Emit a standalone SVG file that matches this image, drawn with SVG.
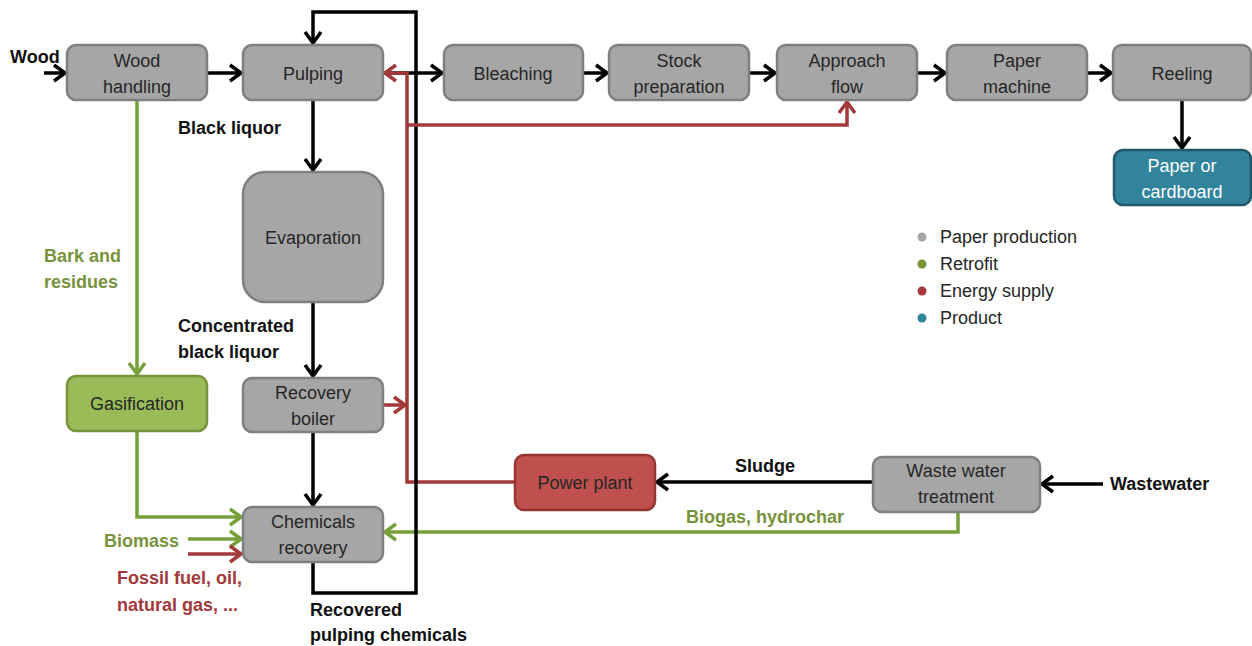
<svg xmlns="http://www.w3.org/2000/svg" width="1252" height="646" viewBox="0 0 1252 646">
<defs>
<style>
.n rect{fill:#a6a6a6;stroke:#7f7f7f;stroke-width:2.5}
.n text,.t{font-family:"Liberation Sans",Arial,sans-serif;font-size:18px;fill:#262626;text-anchor:middle}
.g rect{fill:#9bbb59;stroke:#77933c}
.r rect{fill:#c0504d;stroke:#943634}
.p rect{fill:#31849b;stroke:#215968}
.p text{fill:#ffffff}
.c path{fill:none;stroke-width:3.5;stroke-linejoin:miter}
.k{stroke:#000}
.rd{stroke:#a3393b}
.gr{stroke:#77a03a}
.lb{font-family:"Liberation Sans",Arial,sans-serif;font-size:18px;font-weight:bold;fill:#111}
.lg{fill:#77933c}
.lr{fill:#a3393b}
.leg{font-family:"Liberation Sans",Arial,sans-serif;font-size:18px;fill:#262626}
</style>
<marker id="ak" markerUnits="userSpaceOnUse" viewBox="-14 -10 16 20" refX="0" refY="0" markerWidth="16" markerHeight="20" orient="auto"><path d="M-11,-8 L0,0 L-11,8" fill="none" stroke="#000" stroke-width="3.5"/></marker>
<marker id="ar" markerUnits="userSpaceOnUse" viewBox="-14 -10 16 20" refX="0" refY="0" markerWidth="16" markerHeight="20" orient="auto"><path d="M-11,-8 L0,0 L-11,8" fill="none" stroke="#a3393b" stroke-width="3.5"/></marker>
<marker id="ag" markerUnits="userSpaceOnUse" viewBox="-14 -10 16 20" refX="0" refY="0" markerWidth="16" markerHeight="20" orient="auto"><path d="M-11,-8 L0,0 L-11,8" fill="none" stroke="#77a03a" stroke-width="3.5"/></marker>
</defs>
<rect width="1252" height="646" fill="#fff"/>
<g id="connectors" class="c">
<path class="gr" d="M137,100 V374" marker-end="url(#ag)"/>
<path class="gr" d="M137,431 V517 H241" marker-end="url(#ag)"/>
<path class="gr" d="M188,539 H241" marker-end="url(#ag)"/>
<path class="rd" d="M188,554 H241" marker-end="url(#ar)"/>
<path class="gr" d="M958,512 V532 H385" marker-end="url(#ag)"/>
<path class="k" d="M383,73 H442" marker-end="url(#ak)"/>
<path class="rd" d="M515,482 H407 V73 H385" marker-end="url(#ar)"/>
<path class="rd" d="M383,405 H405" marker-end="url(#ar)"/>
<path class="k" d="M313,562 V593 H416 V12 H313 V43" marker-end="url(#ak)"/>
<path class="rd" d="M407,125 H847 V102" marker-end="url(#ar)"/>
<path class="k" d="M44,73 H65" marker-end="url(#ak)"/>
<path class="k" d="M207,73 H241" marker-end="url(#ak)"/>
<path class="k" d="M583,73 H607" marker-end="url(#ak)"/>
<path class="k" d="M749,73 H775" marker-end="url(#ak)"/>
<path class="k" d="M917,73 H945" marker-end="url(#ak)"/>
<path class="k" d="M1087,73 H1111" marker-end="url(#ak)"/>
<path class="k" d="M1182,100 V148" marker-end="url(#ak)"/>
<path class="k" d="M313,100 V170" marker-end="url(#ak)"/>
<path class="k" d="M313,302 V376" marker-end="url(#ak)"/>
<path class="k" d="M313,432 V505" marker-end="url(#ak)"/>
<path class="k" d="M873,482 H657" marker-end="url(#ak)"/>
<path class="k" d="M1103,484 H1042" marker-end="url(#ak)"/>
</g>
<g id="wood-handling" class="n"><rect x="67" y="45" width="140" height="55" rx="9"/><text x="137" y="67">Wood</text><text x="137" y="93">handling</text></g>
<g id="pulping" class="n"><rect x="243" y="45" width="140" height="55" rx="9"/><text x="313" y="80">Pulping</text></g>
<g id="bleaching" class="n"><rect x="444" y="45" width="139" height="55" rx="9"/><text x="513" y="80">Bleaching</text></g>
<g id="stock-preparation" class="n"><rect x="609" y="45" width="140" height="55" rx="9"/><text x="679" y="67">Stock</text><text x="679" y="93">preparation</text></g>
<g id="approach-flow" class="n"><rect x="777" y="45" width="140" height="55" rx="9"/><text x="847" y="67">Approach</text><text x="847" y="93">flow</text></g>
<g id="paper-machine" class="n"><rect x="947" y="45" width="140" height="55" rx="9"/><text x="1017" y="67">Paper</text><text x="1017" y="93">machine</text></g>
<g id="reeling" class="n"><rect x="1113" y="45" width="138" height="55" rx="9"/><text x="1182" y="80">Reeling</text></g>
<g id="paper-or-cardboard" class="n p"><rect x="1114" y="150" width="137" height="55" rx="9"/><text x="1182" y="172">Paper or</text><text x="1182" y="198">cardboard</text></g>
<g id="evaporation" class="n"><rect x="243" y="172" width="140" height="130" rx="22"/><text x="313" y="244">Evaporation</text></g>
<g id="recovery-boiler" class="n"><rect x="243" y="378" width="140" height="54" rx="9"/><text x="313" y="399">Recovery</text><text x="313" y="425">boiler</text></g>
<g id="chemicals-recovery" class="n"><rect x="243" y="507" width="140" height="55" rx="9"/><text x="313" y="528">Chemicals</text><text x="313" y="554">recovery</text></g>
<g id="gasification" class="n g"><rect x="67" y="376" width="140" height="55" rx="9"/><text x="137" y="410">Gasification</text></g>
<g id="power-plant" class="n r"><rect x="515" y="455" width="140" height="55" rx="9"/><text x="585" y="489">Power plant</text></g>
<g id="waste-water-treatment" class="n"><rect x="873" y="457" width="167" height="55" rx="9"/><text x="956" y="477">Waste water</text><text x="956" y="503">treatment</text></g>
<g id="labels">
<text class="lb" x="10" y="63">Wood</text>
<text class="lb" x="178" y="134">Black liquor</text>
<text class="lb" x="178" y="332">Concentrated</text>
<text class="lb" x="178" y="358">black liquor</text>
<text class="lb lg" x="44" y="262">Bark and</text>
<text class="lb lg" x="44" y="288">residues</text>
<text class="lb lg" x="104" y="547">Biomass</text>
<text class="lb lr" x="117" y="584">Fossil fuel, oil,</text>
<text class="lb lr" x="117" y="611">natural gas, ...</text>
<text class="lb" x="310" y="616">Recovered</text>
<text class="lb" x="310" y="641">pulping chemicals</text>
<text class="lb" x="735" y="472">Sludge</text>
<text class="lb lg" x="686" y="523">Biogas, hydrochar</text>
<text class="lb" x="1110" y="490">Wastewater</text>
</g>
<g id="legend">
<circle cx="922" cy="237" r="4.5" fill="#a6a6a6"/><text class="leg" x="940" y="243">Paper production</text>
<circle cx="922" cy="264" r="4.5" fill="#77933c"/><text class="leg" x="940" y="270">Retrofit</text>
<circle cx="922" cy="291" r="4.5" fill="#a3393b"/><text class="leg" x="940" y="297">Energy supply</text>
<circle cx="922" cy="318" r="4.5" fill="#31849b"/><text class="leg" x="940" y="324">Product</text>
</g>
</svg>
